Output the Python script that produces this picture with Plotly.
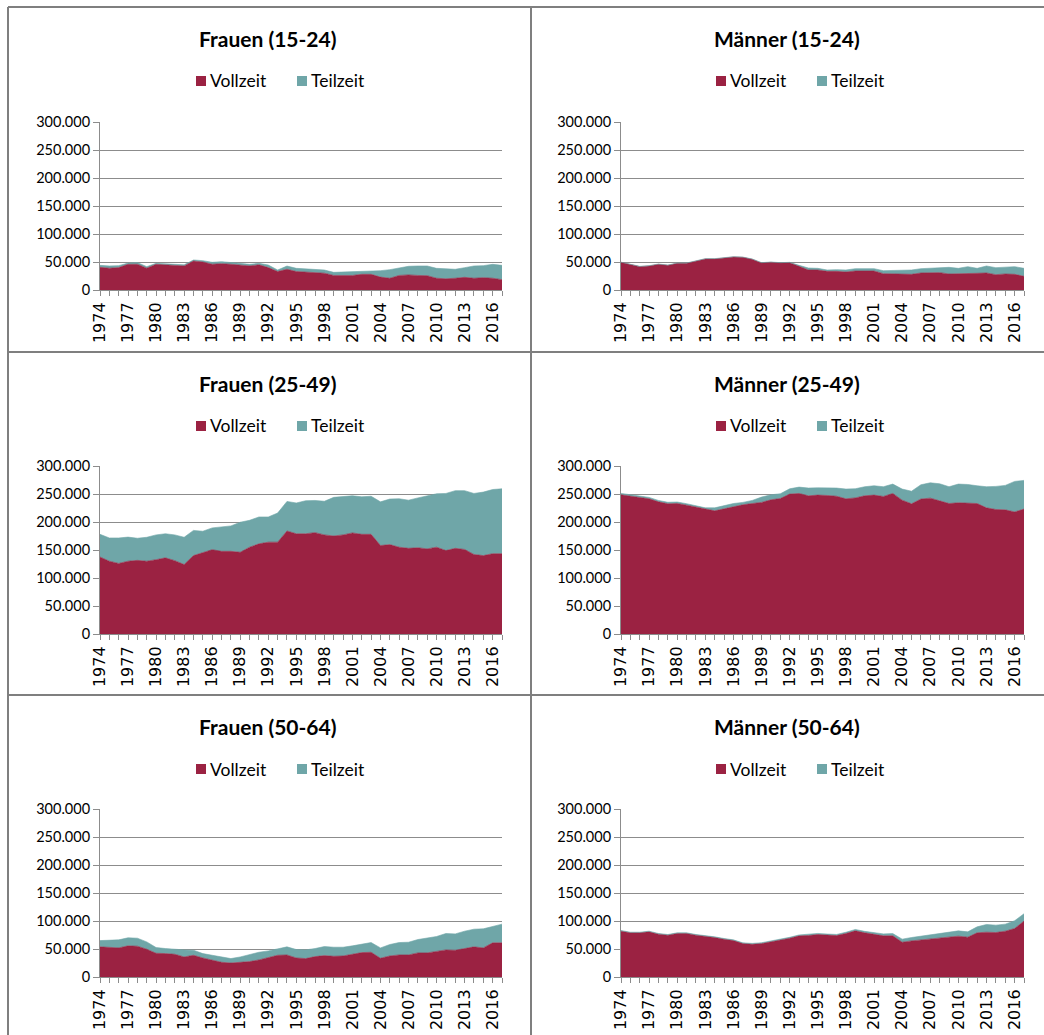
import plotly.graph_objects as go

W, H = 1044, 1035

years = list(range(1974, 2018))
tick_years = list(range(1974, 2017, 3))
tick_year_labels = [str(y) for y in tick_years]
y_ticks = [0, 50000, 100000, 150000, 200000, 250000, 300000]
y_tick_labels = ["0", "50.000", "100.000", "150.000", "200.000", "250.000", "300.000"]

series_names = ["Vollzeit", "Teilzeit"]
panel_titles = ["Frauen (15-24)", "Männer (15-24)",
                "Frauen (25-49)", "Männer (25-49)",
                "Frauen (50-64)", "Männer (50-64)"]

frauen_15_24_vollzeit = [40500, 39000, 40000, 46000, 46000, 39000, 46000, 45000, 45000, 43000,
                         52000, 50000, 46000, 47000, 46000, 45000, 43000, 45000, 40000, 33000,
                         37000, 33000, 32000, 31500, 30000, 26000, 26000, 26000, 28000, 28000,
                         23000, 21000, 26000, 27000, 26000, 25600, 21000, 20000, 21000, 22600,
                         21000, 22000, 21000, 18500]
frauen_15_24_teilzeit = [3500, 4000, 3500, 2000, 3000, 2700, 1600, 1400, 1400, 2000,
                         1600, 2400, 3400, 3600, 3000, 2600, 2800, 2600, 4600, 2700,
                         5800, 5700, 5500, 4800, 5700, 5500, 6000, 6700, 6000, 6000,
                         11500, 15300, 12700, 15300, 16900, 17300, 17700, 17500, 16000, 17300,
                         21900, 21500, 24800, 25500]

maenner_15_24_vollzeit = [49400, 45800, 41700, 42900, 45800, 44000, 47600, 47600, 51800, 55400,
                          55400, 57700, 58900, 58300, 54800, 48200, 49400, 48200, 48800, 42300,
                          35700, 35700, 33300, 33300, 32100, 33900, 33900, 33900, 29200, 29200,
                          29200, 28000, 30400, 31000, 31000, 28600, 28600, 29800, 29800, 30400,
                          27400, 28600, 28000, 24400]
maenner_15_24_teilzeit = [300, 600, 600, 600, 600, 600, 600, 600, 600, 600,
                          600, 600, 500, 500, 600, 600, 600, 600, 600, 1700,
                          3600, 3000, 2400, 3000, 3600, 4200, 4800, 4200, 5300, 5900,
                          6500, 7700, 7700, 8300, 9500, 11900, 10100, 11900, 8900, 12500,
                          12500, 11900, 13700, 14300]

frauen_25_49_vollzeit = [137500, 130000, 126000, 130000, 131500, 130000, 132700, 136000, 131000, 124000,
                         140000, 145000, 150600, 147600, 147600, 146000, 155000, 161000, 164000, 164000,
                         184000, 179000, 179000, 181000, 177000, 175000, 177000, 180500, 178000, 178000,
                         158000, 159600, 155000, 153000, 154000, 152000, 155000, 149000, 153000, 151000,
                         142000, 140000, 143400, 143400]
frauen_25_49_teilzeit = [40500, 41500, 45500, 43000, 39500, 42700, 44300, 43000, 46000, 48700,
                         45000, 38500, 38900, 43000, 45400, 53600, 48000, 48000, 45000, 52000,
                         52700, 55000, 59000, 57500, 60000, 69000, 68600, 66300, 67000, 68000,
                         78000, 81400, 86500, 86000, 89000, 94800, 95400, 102000, 103000, 105000,
                         109000, 113400, 114600, 115900]

maenner_25_49_vollzeit = [248600, 246800, 243800, 241400, 236000, 232500, 233000, 230000, 226500, 222300,
                          220000, 223500, 227700, 230700, 233000, 235000, 239600, 242000, 249800, 251000,
                          246800, 248000, 247400, 246000, 241400, 243000, 246800, 248000, 245600, 251000,
                          239000, 232500, 241000, 242600, 237800, 233000, 234300, 233000, 233000, 225300,
                          222300, 221700, 218000, 223000]
maenner_25_49_teilzeit = [2500, 2500, 2500, 2500, 2500, 2700, 2700, 2700, 3000, 3000,
                          5300, 5500, 5300, 4300, 5500, 9500, 9000, 8400, 9500, 11300,
                          13800, 13000, 13600, 14600, 17400, 16400, 16200, 16700, 17400, 16700,
                          19800, 22500, 25500, 27400, 30500, 30000, 33400, 34000, 31700, 37700,
                          41300, 43700, 54500, 51300]

frauen_50_64_vollzeit = [53800, 52600, 52000, 55600, 55000, 49600, 42400, 41800, 40600, 35800,
                         38800, 34000, 29900, 26300, 25000, 25700, 27500, 30500, 34000, 38800,
                         39400, 34000, 32900, 36400, 38200, 37000, 37600, 40600, 43600, 44200,
                         33500, 37600, 39400, 39400, 43000, 43000, 45400, 48400, 47800, 50200,
                         53800, 52000, 61000, 61000]
frauen_50_64_teilzeit = [11200, 12400, 14300, 14400, 14300, 13100, 10200, 9000, 8400, 12600,
                         9000, 7800, 8900, 9500, 7900, 10100, 13100, 13700, 12600, 12000,
                         14400, 15000, 15500, 14400, 16200, 16200, 15600, 15000, 15500, 17300,
                         18500, 20400, 22100, 22700, 23900, 26300, 26900, 29300, 29200, 31600,
                         31600, 34000, 29800, 33400]

maenner_50_64_vollzeit = [81800, 78900, 78900, 80600, 76500, 74700, 77700, 77700, 74700, 72900,
                          70500, 67500, 65000, 59700, 58500, 59700, 62700, 65100, 69300, 73500,
                          74000, 75900, 74700, 74000, 77700, 82400, 78900, 76500, 73500, 73500,
                          62100, 64500, 66300, 67500, 69900, 71100, 72900, 71100, 78900, 80000,
                          79400, 81800, 86600, 99800]
maenner_50_64_teilzeit = [1200, 1100, 1100, 1200, 1200, 1200, 1200, 1200, 1200, 1100,
                          1200, 1200, 1300, 1300, 1500, 1500, 1500, 1500, 1600, 1600,
                          1900, 1900, 2000, 2000, 2200, 2500, 2600, 3000, 3500, 4000,
                          5500, 6000, 6500, 7000, 8000, 9000, 9500, 9500, 10700, 13800,
                          13200, 12600, 13800, 13200]

panels = [
    (frauen_15_24_vollzeit, frauen_15_24_teilzeit),
    (maenner_15_24_vollzeit, maenner_15_24_teilzeit),
    (frauen_25_49_vollzeit, frauen_25_49_teilzeit),
    (maenner_25_49_vollzeit, maenner_25_49_teilzeit),
    (frauen_50_64_vollzeit, frauen_50_64_teilzeit),
    (maenner_50_64_vollzeit, maenner_50_64_teilzeit),
]

COL_V = "#9B2242"
COL_T = "#6FA6A8"
GRID = "#8C8C8C"
BORDER = "#7F7F7F"
FONT = "Lato, 'Open Sans', sans-serif"
TICKFONT_X = "'DejaVu Sans', sans-serif"


def px_x(x):
    return x / W


def px_y(y):
    return 1 - y / H


col_x = [(100, 502), (621, 1024)]
row_top = [122, 466, 809]
plot_h = 168
title_y = [39, 383, 726]
legend_y = [81, 426, 769]
col_center = [267, 787]
legend_sq_x = [(196, 297), (716, 817)]
SQ = 10

fig = go.Figure()
layout = dict()
annotations = []
shapes = []

for k, (voll, teil) in enumerate(panels):
    r, c = divmod(k, 2)
    ax = "" if k == 0 else str(k + 1)
    xname, yname = "x" + ax, "y" + ax
    for name, vals, col in zip(series_names, (voll, teil), (COL_V, COL_T)):
        fig.add_trace(go.Scatter(
            x=years, y=vals, name=name, mode="lines",
            stackgroup="s%d" % k, line=dict(width=0.6, color=col),
            fillcolor=col, xaxis=xname, yaxis=yname, showlegend=False,
            hovertemplate="%{x}: %{y:,.0f}<extra>" + name + "</extra>"))
    x0, x1 = col_x[c]
    top = row_top[r]
    layout["xaxis" + ax] = dict(
        domain=[px_x(x0), px_x(x1)], anchor=yname, range=[1974, 2017],
        automargin=False,
        tickmode="array", tickvals=tick_years, ticktext=tick_year_labels,
        tickangle=-90, ticks="outside", ticklen=5, tickcolor=GRID, tickwidth=1,
        showline=True, linecolor=GRID, linewidth=1, showgrid=False, zeroline=False,
        tickfont=dict(family=TICKFONT_X, size=16, color="#000000"),
        minor=dict(tickmode="array", tickvals=years, ticks="outside", ticklen=5,
                   tickcolor=GRID, showgrid=False),
        fixedrange=True)
    layout["yaxis" + ax] = dict(
        domain=[px_y(top + plot_h), px_y(top)], anchor=xname, range=[0, 300000],
        automargin=False,
        tickmode="array", tickvals=y_ticks, ticktext=y_tick_labels,
        ticks="outside", ticklen=6, tickcolor=GRID, tickwidth=1,
        showline=True, linecolor=GRID, linewidth=1, showgrid=True, gridcolor=GRID,
        gridwidth=1, zeroline=False,
        tickfont=dict(family=FONT, size=14.5, color="#000000"),
        fixedrange=True)
    cx = col_center[c]
    annotations.append(dict(
        text="<b>" + panel_titles[k] + "</b>", x=px_x(cx), y=px_y(title_y[r]),
        xref="paper", yref="paper", xanchor="center", yanchor="middle",
        showarrow=False, font=dict(family=FONT, size=21, color="#000000")))
    ly = legend_y[r]
    for sx, name, col in zip(legend_sq_x[c], series_names, (COL_V, COL_T)):
        shapes.append(dict(type="rect", xref="paper", yref="paper",
                           x0=px_x(sx), x1=px_x(sx + SQ),
                           y0=px_y(ly + SQ / 2), y1=px_y(ly - SQ / 2),
                           fillcolor=col, line=dict(width=0)))
        annotations.append(dict(
            text=name, x=px_x(sx + SQ + 2), y=px_y(ly), xref="paper", yref="paper",
            xanchor="left", yanchor="middle", showarrow=False,
            font=dict(family=FONT, size=17.5, color="#000000")))

for (xa, ya, xb, yb) in [(8, 7, 8, H), (8, 7, W, 7), (531, 7, 531, H),
                         (8, 352, W, 352), (8, 695, W, 695)]:
    shapes.append(dict(type="line", xref="paper", yref="paper",
                       x0=px_x(xa), y0=px_y(ya), x1=px_x(xb), y1=px_y(yb),
                       line=dict(color=BORDER, width=2)))

fig.update_layout(
    width=W, height=H, margin=dict(l=0, r=0, t=0, b=0, pad=0, autoexpand=False),
    paper_bgcolor="#FFFFFF", plot_bgcolor="#FFFFFF",
    font=dict(family=FONT, color="#000000"),
    showlegend=False, annotations=annotations, shapes=shapes, **layout)

fig.write_html("out.html")
